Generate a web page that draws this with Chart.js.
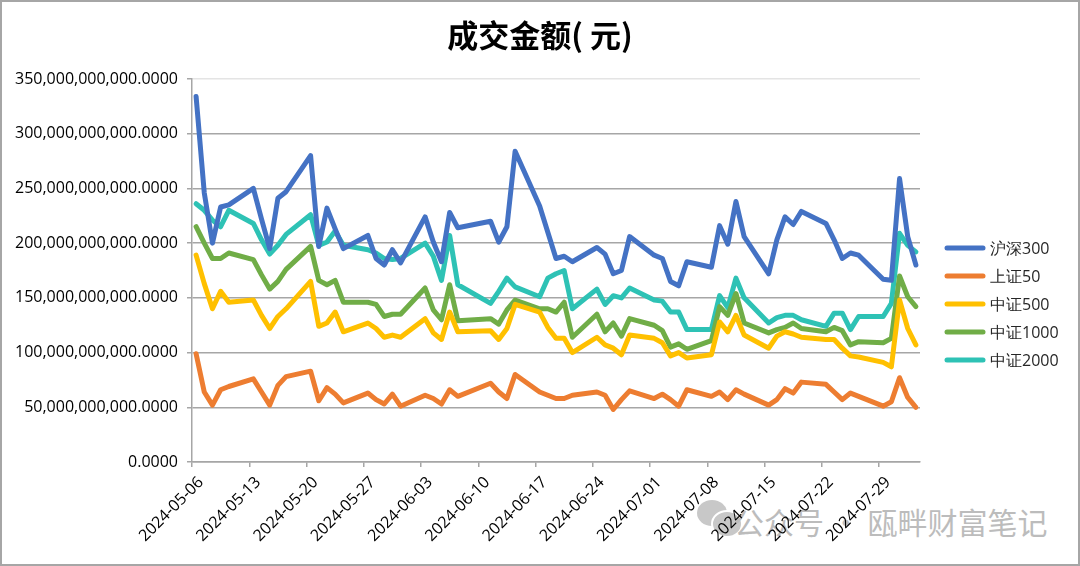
<!DOCTYPE html>
<html>
<head>
<meta charset="utf-8">
<script src="https://cdn.jsdelivr.net/npm/chart.js@4.4.1/dist/chart.umd.min.js"></script>
<style>
  html, body { margin: 0; padding: 0; background: #fff; }
  #wrap { position: relative; width: 1080px; height: 566px; }
  #chart-box { position: absolute; left: 0; top: 0; width: 1080px; height: 566px; z-index: 1; }
  #frame { position: absolute; left: 0; top: 0; width: 1076px; height: 562px; border: 2px solid #a6a6a6; z-index: 2; pointer-events: none; }
  .wx { position: absolute; border-radius: 50%; background: #c8c8c8; z-index: 0; }
  #mark { position: absolute; left: 734px; top: 499px; font: 30px "Noto Sans CJK SC", sans-serif; color: #bcbcbc; z-index: 0; white-space: nowrap; }
</style>
</head>
<body>
<div id="wrap">
  <div class="wx" style="left:697px;top:500px;width:30px;height:26px;"></div>
  <div class="wx" style="left:711px;top:510px;width:28px;height:24px;border:2px solid #fff;"></div>
  <div id="mark">公众号 · 瓯畔财富笔记</div>
  <div id="chart-box"><canvas id="myChart"></canvas></div>
  <div id="frame"></div>
</div>
<script>
// trading days
const dates = [
  "2024-05-06", "2024-05-07", "2024-05-08", "2024-05-09", "2024-05-10",
  "2024-05-13", "2024-05-14", "2024-05-15", "2024-05-16", "2024-05-17",
  "2024-05-20", "2024-05-21", "2024-05-22", "2024-05-23", "2024-05-24",
  "2024-05-27", "2024-05-28", "2024-05-29", "2024-05-30", "2024-05-31",
  "2024-06-03", "2024-06-04", "2024-06-05", "2024-06-06", "2024-06-07",
  "2024-06-11", "2024-06-12", "2024-06-13", "2024-06-14",
  "2024-06-17", "2024-06-18", "2024-06-19", "2024-06-20", "2024-06-21",
  "2024-06-24", "2024-06-25", "2024-06-26", "2024-06-27", "2024-06-28",
  "2024-07-01", "2024-07-02", "2024-07-03", "2024-07-04", "2024-07-05",
  "2024-07-08", "2024-07-09", "2024-07-10", "2024-07-11", "2024-07-12",
  "2024-07-15", "2024-07-16", "2024-07-17", "2024-07-18", "2024-07-19",
  "2024-07-22", "2024-07-23", "2024-07-24", "2024-07-25", "2024-07-26",
  "2024-07-29", "2024-07-30", "2024-07-31", "2024-08-01", "2024-08-02"
];

// values in billions of yuan (x1e9)
const hs300 = [
  334, 246, 200, 233, 235,  250, 222, 195, 241, 247,
  280, 197, 232, 213, 195,  207, 186, 180, 194, 182,
  224, 201, 183, 228, 214,  220, 201, 215, 284,
  234, 210, 186, 188, 183,  196, 190, 172, 175, 206,
  189, 186, 165, 161, 183,  178, 216, 199, 238, 206,
  172, 203, 224, 217, 229,  218, 203, 186, 191, 189,
  167, 166, 259, 206, 180
];
const sz50 = [
  99, 64, 52, 66, 69,  76, 64, 52, 70, 78,
  83, 56, 68, 62, 54,  63, 57, 53, 62, 51,
  61, 58, 53, 66, 60,  72, 64, 58, 80,
  64, 61, 58, 58, 61,  64, 61, 48, 57, 65,
  58, 62, 57, 51, 66,  60, 64, 57, 66, 62,
  52, 57, 67, 63, 73,  71, 64, 57, 63, 60,
  51, 55, 77, 59, 50
];
const zz500 = [
  189, 163, 140, 156, 146,  148, 134, 122, 133, 140,
  165, 124, 127, 137, 119,  127, 122, 114, 116, 114,
  131, 118, 112, 137, 119,  120, 112, 122, 144,
  137, 123, 113, 113, 100,  114, 107, 104, 98, 116,
  113, 109, 97, 100, 95,  98, 128, 119, 134, 116,
  104, 115, 119, 117, 114,  112, 112, 104, 97, 96,
  91, 87, 148, 122, 107
];
const zz1000 = [
  215, 200, 186, 186, 191,  185, 171, 158, 165, 176,
  197, 166, 162, 166, 146,  146, 144, 133, 135, 135,
  159, 139, 130, 162, 129,  131, 126, 139, 148,
  140, 140, 137, 146, 114,  135, 119, 127, 115, 131,
  125, 120, 105, 108, 103,  111, 142, 134, 154, 127,
  118, 121, 123, 127, 122,  119, 123, 120, 107, 110,
  109, 113, 170, 151, 142
];
const zz2000 = [
  236, 230, 221, 215, 230,  218, 203, 190, 198, 208,
  226, 198, 201, 211, 198,  194, 191, 186, 185, 186,
  200, 188, 166, 207, 162,  145, 156, 168, 160,
  151, 168, 172, 175, 140,  158, 144, 152, 150, 159,
  148, 147, 137, 137, 121,  121, 152, 141, 168, 150,
  127, 132, 134, 134, 130,  124, 136, 136, 121, 133,
  133, 145, 209, 198, 192
];

const titleText = "成交金额( 元)";
const seriesNames = ["沪深300", "上证50", "中证500", "中证1000", "中证2000"];
const seriesColors = ["#4472C4", "#ED7D31", "#FFC000", "#70AD47", "#2EC2B5"];
const yTicks = [0, 50, 100, 150, 200, 250, 300, 350];

const UNIT = 1e9;
const DAY = 86400000;
const BASE = Date.UTC(2024, 4, 6);

function dayOf(s) {
  const [y, m, d] = s.split("-").map(Number);
  return (Date.UTC(y, m - 1, d) - BASE) / DAY;
}
function fmtDay(v) {
  return new Date(BASE + v * DAY).toISOString().slice(0, 10);
}
function fmtYuan(v) {
  return Math.round(v).toString().replace(/\B(?=(\d{3})+(?!\d))/g, ",") + ".0000";
}

const allValues = [hs300, sz50, zz500, zz1000, zz2000];
const datasets = allValues.map((vals, i) => ({
  label: seriesNames[i],
  // excel date axis, points sit in the middle of each day
  data: vals.map((v, j) => ({ x: dayOf(dates[j]) + 0.5, y: v * UNIT })),
  borderColor: seriesColors[i],
  backgroundColor: seriesColors[i],
  borderWidth: 5,
  pointRadius: 0,
  tension: 0,
  borderJoinStyle: "round",
  borderCapStyle: "round",
}));

const gridColor = "#a6a6a6";
const lastDay = dayOf(dates[dates.length - 1]) + 1;

// title centred on the whole picture + legend on the right side
const decorations = {
  id: "decorations",
  afterDraw(chart) {
    const ctx = chart.ctx;
    ctx.save();
    ctx.fillStyle = "#000";
    ctx.textAlign = "center";
    ctx.textBaseline = "middle";
    ctx.font = 'bold 31px "Noto Sans CJK SC", sans-serif';
    ctx.fillText(titleText, 540, 35);

    ctx.textAlign = "left";
    ctx.font = '16px "Open Sans", sans-serif';
    ctx.lineCap = "round";
    chart.data.datasets.forEach((ds, i) => {
      const y = 248 + i * 28;
      ctx.strokeStyle = ds.borderColor;
      ctx.lineWidth = 5;
      ctx.beginPath();
      ctx.moveTo(947, y);
      ctx.lineTo(983, y);
      ctx.stroke();
      ctx.fillStyle = "#262626";
      ctx.fillText(ds.label, 990, y + 1);
    });
    ctx.restore();
  },
};

Chart.defaults.font.family = '"Open Sans", sans-serif';
Chart.defaults.color = "#262626";

const ctx = document.getElementById("myChart");
const newChart = new Chart(ctx, {
  type: "line",
  data: { datasets: datasets },
  options: {
    responsive: true,
    maintainAspectRatio: false,
    animation: false,
    layout: { padding: { top: 79, right: 160, left: 0, bottom: 0 } },
    plugins: {
      legend: { display: false },
      tooltip: { enabled: false },
      title: { display: false },
    },
    scales: {
      x: {
        type: "linear",
        min: 0,
        max: lastDay,
        afterFit: (s) => { s.height = 104; },
        border: { display: true, color: gridColor, width: 1.5 },
        grid: { drawOnChartArea: false, drawTicks: true, tickLength: 5, color: gridColor, lineWidth: 1.5 },
        ticks: {
          stepSize: 7,
          includeBounds: false,
          autoSkip: false,
          minRotation: 45,
          maxRotation: 45,
          padding: 6,
          labelOffset: 9,
          color: "#000",
          font: { size: 16 },
          callback: (v) => fmtDay(v),
        },
      },
      y: {
        min: yTicks[0] * UNIT,
        max: yTicks[yTicks.length - 1] * UNIT,
        afterFit: (s) => { s.width = 192; },
        afterBuildTicks: (axis) => { axis.ticks = yTicks.map((t) => ({ value: t * UNIT })); },
        border: { display: true, color: gridColor, width: 1.5 },
        grid: {
          color: (c) => (c.tick && c.tick.value === 350 * UNIT ? "#e4e4e4" : gridColor),
          tickColor: gridColor,
          lineWidth: 1.5,
          tickLength: 5,
        },
        ticks: {
          padding: 9,
          color: "#000",
          font: { size: 16 },
          callback: (v) => fmtYuan(v),
        },
      },
    },
  },
  plugins: [decorations],
});
</script>
</body>
</html>
